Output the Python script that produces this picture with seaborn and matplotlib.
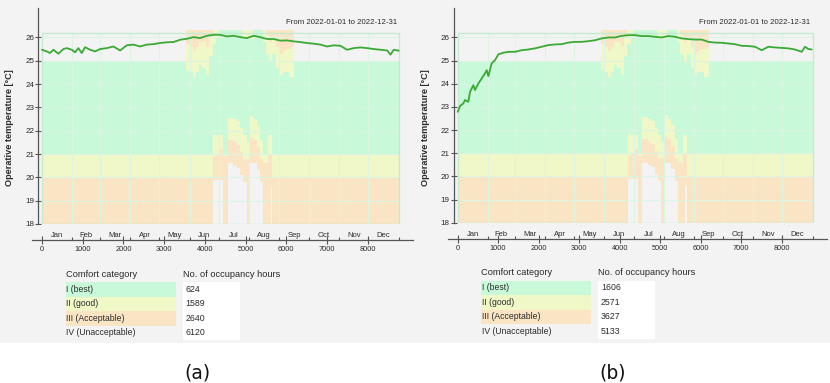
import numpy as np
import pandas as pd
import matplotlib
matplotlib.use("Agg")
import matplotlib.pyplot as plt
import seaborn as sns
from matplotlib.patches import Rectangle

sns.set_theme(style="white")
plt.rcParams["font.family"] = ["Liberation Sans", "DejaVu Sans"]

# ---------------- data ----------------
months = ["Jan", "Feb", "Mar", "Apr", "May", "Jun", "Jul", "Aug", "Sep", "Oct", "Nov", "Dec"]
month_days = [31, 28, 31, 30, 31, 30, 31, 31, 30, 31, 30, 31]
hour_ticks = [0, 1000, 2000, 3000, 4000, 5000, 6000, 7000, 8000]
temp_ticks = [18, 19, 20, 21, 22, 23, 24, 25, 26]

hours_a = [0, 115, 197, 279, 402, 525, 607, 730, 811, 893, 975, 1057, 1180, 1303, 1426,
           1590, 1754, 1918, 2082, 2246, 2410, 2574, 2738, 2902, 3066, 3230, 3394, 3557,
           3721, 3885, 4049, 4213, 4377, 4541, 4705, 4869, 5033, 5197, 5361, 5525, 5689,
           5853, 6017, 6181, 6344, 6508, 6672, 6836, 7000, 7164, 7328, 7492, 7656, 7820,
           7984, 8148, 8312, 8476, 8558, 8640, 8760]
temp_a = [25.47, 25.40, 25.33, 25.47, 25.30, 25.50, 25.54, 25.47, 25.36, 25.54, 25.33,
          25.58, 25.47, 25.40, 25.50, 25.54, 25.61, 25.44, 25.66, 25.69, 25.61, 25.69,
          25.71, 25.76, 25.79, 25.80, 25.90, 25.94, 26.01, 25.97, 26.07, 26.11, 26.11,
          26.04, 26.07, 26.01, 25.97, 26.07, 26.01, 25.93, 25.93, 25.86, 25.87, 25.83,
          25.80, 25.76, 25.73, 25.69, 25.61, 25.66, 25.64, 25.47, 25.54, 25.57, 25.54,
          25.50, 25.47, 25.44, 25.26, 25.47, 25.43]

hours_b = [0, 58, 140, 181, 263, 305, 387, 428, 510, 593, 675, 716, 757, 839, 922, 1004,
           1128, 1251, 1416, 1580, 1745, 1909, 2074, 2239, 2403, 2568, 2732, 2897, 3062,
           3226, 3391, 3555, 3720, 3885, 4049, 4214, 4378, 4543, 4708, 4872, 5037, 5201,
           5366, 5531, 5695, 5860, 6024, 6189, 6354, 6518, 6683, 6847, 7012, 7177, 7341,
           7506, 7670, 7835, 8000, 8164, 8329, 8493, 8576, 8658, 8740]
temp_b = [22.79, 23.04, 23.15, 23.30, 23.22, 23.65, 23.94, 23.73, 24.01, 24.23, 24.45,
          24.59, 24.33, 24.88, 25.02, 25.27, 25.34, 25.38, 25.38, 25.45, 25.48, 25.53,
          25.60, 25.67, 25.70, 25.71, 25.78, 25.81, 25.81, 25.84, 25.88, 25.96, 26.00,
          26.00, 26.07, 26.10, 26.10, 26.06, 26.06, 26.03, 26.00, 26.06, 26.03, 25.96,
          25.93, 25.91, 25.91, 25.81, 25.78, 25.77, 25.74, 25.71, 25.64, 25.63, 25.60,
          25.45, 25.60, 25.57, 25.55, 25.53, 25.48, 25.38, 25.60, 25.50, 25.48]

# comfort band limits (upper side), segment start hours
warm_hours = [0, 3536, 3620, 3700, 3780, 3860, 3940, 4030, 4110, 4190, 4270, 4350, 4920,
              5180, 5420, 5500, 5580, 5660, 5750, 5830, 5910, 5990, 6070, 6150, 6200]
green_top = [25, 24.6, 24.5, 24.3, 24.5, 24.8, 24.7, 24.4, 25.2, 25.7, 26.0, 26.33, 25.95,
             26.33, 25.8, 25.3, 25.0, 25.3, 24.7, 24.4, 24.5, 24.5, 24.3, 24.3, 25]
yellow_top = [25, 25.7, 25.6, 25.4, 25.6, 25.8, 25.8, 25.6, 26.0, 26.33, 26.33, 26.33,
              26.33, 26.33, 26.33, 26.1, 25.8, 26.0, 25.6, 25.3, 25.4, 25.5, 25.5, 25.6, 25]
orange_top = [25] + [26.33] * 23 + [25]

# comfort band limits (lower side), segment start hours
cold_hours = [0, 4200, 4290, 4370, 4450, 4560, 4700, 4780, 4860, 4945, 5026, 5108, 5190,
              5272, 5354, 5436, 5560, 5620, 5650]
green_bottom = [21, 21.82, 21.8, 21.8, 21.0, 22.55, 22.5, 22.4, 22.1, 21.8, 21.5, 22.65,
                22.5, 22.2, 21.6, 21.0, 21.8, 21.8, 21]
yellow_bottom = [20, 20.9, 21.0, 21.2, 20.9, 21.6, 21.5, 21.4, 21.1, 20.8, 20.8, 21.7,
                 21.6, 21.3, 20.8, 20.6, 21.0, 21.0, 20]
orange_bottom = [18, 19.88, 19.88, 19.88, 18, 20.6, 20.5, 20.4, 20.1, 19.8, 18, 20.6,
                 20.6, 20.3, 19.8, 18, 18, 19.6, 18]

categories = ["I (best)", "II (good)", "III (Acceptable)", "IV (Unacceptable)"]
occ_hours_a = [624, 1589, 2640, 6120]
occ_hours_b = [1606, 2571, 3627, 5133]

# ---------------- style ----------------
W, H = 830, 383
BG = "#f3f3f3"
C_GREEN = "#c8f9d9"
C_YELLOW = "#f0f8c8"
C_ORANGE = "#f9e5c4"
C_LINE = "#3aa935"
C_GRID = "#dcf4e2"
C_FRAME = "#c4ebcf"
C_AXIS = "#555555"
C_TEXT = "#2a2a2a"
YEAR_H = 8760
PLOT_TOP = 26.2

fig = plt.figure(figsize=(W / 100, H / 100), dpi=100)
fig.patch.set_facecolor("white")


def fx(x):
    return x / W


def fy(y):
    return 1 - y / H


fig.add_artist(Rectangle((0, fy(343)), 1, 1 - fy(343), transform=fig.transFigure,
                         facecolor=BG, edgecolor="none", zorder=-5))

month_edges = np.concatenate([[0], np.cumsum(month_days) * 24])
month_mids = (month_edges[:-1] + month_edges[1:]) / 2

grid_h = sorted(set(warm_hours + cold_hours + [YEAR_H]))


def step_values(seg_hours, values, xs):
    idx = np.searchsorted(np.asarray(seg_hours), xs, side="right") - 1
    return np.asarray(values, dtype=float)[idx]


bands = pd.DataFrame({"hour": grid_h})
bands["green_top"] = step_values(warm_hours, green_top, bands["hour"])
bands["yellow_top"] = step_values(warm_hours, yellow_top, bands["hour"])
bands["orange_top"] = step_values(warm_hours, orange_top, bands["hour"])
bands["green_bottom"] = step_values(cold_hours, green_bottom, bands["hour"])
bands["yellow_bottom"] = step_values(cold_hours, yellow_bottom, bands["hour"])
bands["orange_bottom"] = step_values(cold_hours, orange_bottom, bands["hour"])


def draw_panel(left_px, right_plot_px, top_px, bottom_px, hours, temps, occ, dx, dy, tag):
    # x range -246..9110 hours, plot region 0..8760
    px_per_h = (right_plot_px - left_px) / (YEAR_H + 246)
    x_right = left_px + (9110 + 246) * px_per_h
    ax = fig.add_axes([fx(left_px), fy(bottom_px), (x_right - left_px) / W,
                       (bottom_px - top_px) / H])
    ax.set_facecolor("none")
    ax.set_xlim(-246, 9110)
    ax.set_ylim(18, 27.26)

    x = bands["hour"]
    kw = dict(step="post", linewidth=0, zorder=1)
    ax.fill_between(x, bands["orange_bottom"], bands["yellow_bottom"], color=C_ORANGE, **kw)
    ax.fill_between(x, bands["yellow_bottom"], bands["green_bottom"], color=C_YELLOW, **kw)
    ax.fill_between(x, bands["green_bottom"], bands["green_top"], color=C_GREEN, **kw)
    ax.fill_between(x, bands["green_top"], bands["yellow_top"], color=C_YELLOW, **kw)
    ax.fill_between(x, bands["yellow_top"], bands["orange_top"], color=C_ORANGE, **kw)

    ax.hlines(temp_ticks, 0, YEAR_H, color=C_GRID, lw=0.8, zorder=2)
    ax.vlines(month_edges[1:-1], 18, PLOT_TOP, color=C_GRID, lw=0.8, zorder=2)
    ax.add_patch(Rectangle((0, 18), YEAR_H, PLOT_TOP - 18, fill=False,
                           edgecolor=C_FRAME, lw=1.0, zorder=2))

    df = pd.DataFrame({"hour": hours, "temp": temps})
    sns.lineplot(data=df, x="hour", y="temp", ax=ax, color=C_LINE, lw=1.3, zorder=3)

    for s in ["top", "right"]:
        ax.spines[s].set_visible(False)
    ax.spines["left"].set_position(("data", -100))
    ax.spines["bottom"].set_position(("outward", 11.5))
    for s in ["left", "bottom"]:
        ax.spines[s].set_color(C_AXIS)
        ax.spines[s].set_linewidth(0.9)

    ax.set_xticks(hour_ticks)
    ax.set_xticklabels([str(h) for h in hour_ticks])
    ax.set_xticks(list(month_edges[1:]), minor=True)
    ax.set_yticks(temp_ticks)
    ax.set_yticklabels([str(t) for t in temp_ticks])
    ax.tick_params(axis="x", which="major", direction="inout", length=6, width=0.8,
                   color=C_AXIS, labelsize=5.3, labelcolor=C_TEXT, pad=1.5, bottom=True)
    ax.tick_params(axis="x", which="minor", direction="in", length=2.5, width=0.8,
                   color=C_AXIS, bottom=True)
    ax.tick_params(axis="y", which="major", direction="inout", length=4.5, width=0.8,
                   color=C_AXIS, labelsize=5.8, labelcolor=C_TEXT, pad=0.5, left=True)
    ax.set_xlabel("")
    ax.set_ylabel("")

    for m, mid in zip(months, month_mids):
        ax.annotate(m, xy=(mid, 0), xycoords=("data", "axes fraction"),
                    xytext=(0, -15), textcoords="offset pixels", ha="center",
                    va="bottom", fontsize=5.5, color=C_TEXT)

    # texts around
    fig.text(fx(right_plot_px - 2), fy(22 + 0), "From 2022-01-01 to 2022-12-31",
             ha="right", va="center", fontsize=5.6, color=C_TEXT)
    fig.text(fx(left_px - 22), fy(128), "Operative temperature [°C]", rotation=90,
             ha="center", va="center", fontsize=6.6, fontweight="bold", color=C_TEXT)

    # comfort table
    fig.text(fx(65.7 + dx), fy(274.3 + dy), "Comfort category", ha="left", va="center",
             fontsize=6.7, color=C_TEXT)
    fig.text(fx(183 + dx), fy(274.3 + dy), "No. of occupancy hours", ha="left",
             va="center", fontsize=6.7, color=C_TEXT)
    row_edges = [282.3, 296.5, 311.0, 325.7, 340.0]
    swatches = [C_GREEN, C_YELLOW, C_ORANGE, None]
    fig.add_artist(Rectangle((fx(183 + dx), fy(row_edges[-1] + dy)), (240 - 183) / W,
                             (row_edges[-1] - row_edges[0]) / H, transform=fig.transFigure,
                             facecolor="white", edgecolor="none", zorder=-1))
    for i, (cat, val) in enumerate(zip(categories, occ)):
        y0, y1 = row_edges[i] + dy, row_edges[i + 1] + dy
        if swatches[i] is not None:
            fig.add_artist(Rectangle((fx(65.7 + dx), fy(y1)), (175.7 - 65.7) / W,
                                     (y1 - y0) / H, transform=fig.transFigure,
                                     facecolor=swatches[i], edgecolor="none", zorder=-1))
        fig.text(fx(66.3 + dx), fy((y0 + y1) / 2), cat, ha="left", va="center",
                 fontsize=6.2, color=C_TEXT)
        fig.text(fx(185.5 + dx), fy((y0 + y1) / 2), str(val), ha="left", va="center",
                 fontsize=6.3, color=C_TEXT)

    fig.text(fx(197 + dx), fy(372.7), tag, ha="center", va="center", fontsize=13.5,
             family="DejaVu Sans", color="#111111")
    return ax


draw_panel(32, 398.7, 8, 224, hours_a, temp_a, occ_hours_a, 0, 0, "(a)")
draw_panel(447.7, 812.5, 8.3, 222.7, hours_b, temp_b, occ_hours_b, 415.3, -1.5, "(b)")

fig.savefig("out.png", dpi=100, facecolor=fig.get_facecolor())
